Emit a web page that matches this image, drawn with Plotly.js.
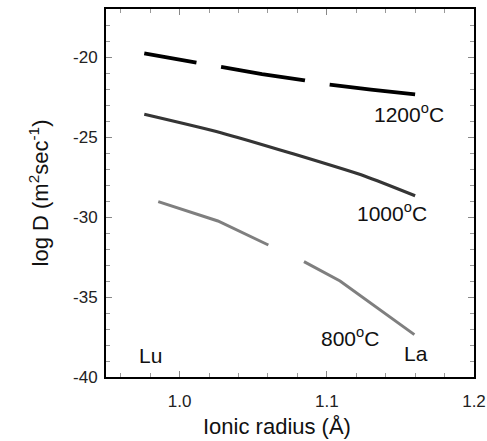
<!DOCTYPE html>
<html>
<head>
<meta charset="utf-8">
<script src="https://cdn.plot.ly/plotly-3.0.1.min.js"></script>
<style>html,body{margin:0;padding:0;background:#fff;}#chart{width:487px;height:441px;}</style>
</head>
<body>
<div id="chart"></div>
<script>
// Data
const x1200 = [0.976, 1.011, 1.028, 1.056, 1.085, 1.101, 1.130, 1.160];
const y1200 = [-19.77, -20.33, -20.65, -21.07, -21.46, -21.71, -22.04, -22.33];

const x1000 = [0.976, 1.028, 1.077, 1.126, 1.160];
const y1000 = [-23.58, -24.73, -26.05, -27.45, -28.67];

const x800 = [0.9855, 1.026, 1.0603, 1.072, 1.0845, 1.109, 1.1595];
const y800 = [-29.04, -30.25, -31.75, null, -32.79, -34.0, -37.35];

const labelText = ["1200<sup>o</sup>C", "1000<sup>o</sup>C", "800<sup>o</sup>C", "Lu", "La"];
const labelX = [1.1561, 1.1446, 1.116, 0.9804, 1.1608];
const labelY = [-23.53, -29.69, -37.47, -38.67, -38.56];

const xTickVals = [1.0, 1.1, 1.2];
const xTickText = ["1.0", "1.1", "1.2"];
const yTickVals = [-20, -25, -30, -35, -40];
const yTickText = ["-20", "-25", "-30", "-35", "-40"];

const FONT = "Arial, 'Liberation Sans', Helvetica, sans-serif";

const traces = [
  {x: x1200, y: y1200, mode: "lines", line: {color: "#000000", width: 3.8, dash: "53px,25px,85px,25px,90px,25px"}, hoverinfo: "skip"},
  {x: x1000, y: y1000, mode: "lines", line: {color: "#353535", width: 3.2, shape: "spline", smoothing: 0.6}, hoverinfo: "skip"},
  {x: x800, y: y800, mode: "lines", connectgaps: false, line: {color: "#7f7f7f", width: 3}, hoverinfo: "skip"}
];

const annotations = labelText.map((t, i) => ({
  x: labelX[i], y: labelY[i], xref: "x", yref: "y", text: t, showarrow: false,
  xanchor: "center", yanchor: "middle", font: {family: FONT, size: 21, color: "#111111"}
}));
annotations.push({
  x: 0.466, y: -0.135, xref: "paper", yref: "paper", text: "Ionic radius (Å)", showarrow: false,
  xanchor: "center", yanchor: "middle", font: {family: FONT, size: 22, color: "#111111"}
});

const layout = {
  width: 487, height: 441,
  margin: {l: 106, r: 13, t: 9, b: 64, pad: 0},
  paper_bgcolor: "#ffffff", plot_bgcolor: "#ffffff",
  showlegend: false,
  font: {family: FONT, color: "#222222"},
  xaxis: {
    range: [0.95, 1.2], showgrid: false, zeroline: false,
    showline: true, linecolor: "#000000", linewidth: 2, mirror: "ticks",
    ticks: "inside", ticklen: 6, tickwidth: 1, tickcolor: "#888888",
    tickvals: xTickVals, ticktext: xTickText, ticklabelstandoff: 8,
    tickfont: {family: FONT, size: 17, color: "#222222"},
    minor: {dtick: 0.02, tick0: 0.96, ticks: "inside", ticklen: 4, tickwidth: 1, tickcolor: "#999999", showgrid: false}
  },
  yaxis: {
    range: [-40, -17], showgrid: false, zeroline: false,
    showline: true, linecolor: "#000000", linewidth: 2, mirror: "ticks",
    ticks: "inside", ticklen: 6, tickwidth: 1, tickcolor: "#888888",
    tickvals: yTickVals, ticktext: yTickText, ticklabelstandoff: 3,
    tickfont: {family: FONT, size: 17, color: "#222222"},
    minor: {dtick: 1, tick0: -40, ticks: "inside", ticklen: 4, tickwidth: 1, tickcolor: "#999999", showgrid: false},
    title: {text: "log D (m<sup>2</sup>sec<sup>-1</sup>)", font: {family: FONT, size: 22, color: "#111111"}, standoff: 18}
  },
  annotations: annotations
};

Plotly.newPlot("chart", traces, layout, {displayModeBar: false, staticPlot: true});
</script>
</body>
</html>
